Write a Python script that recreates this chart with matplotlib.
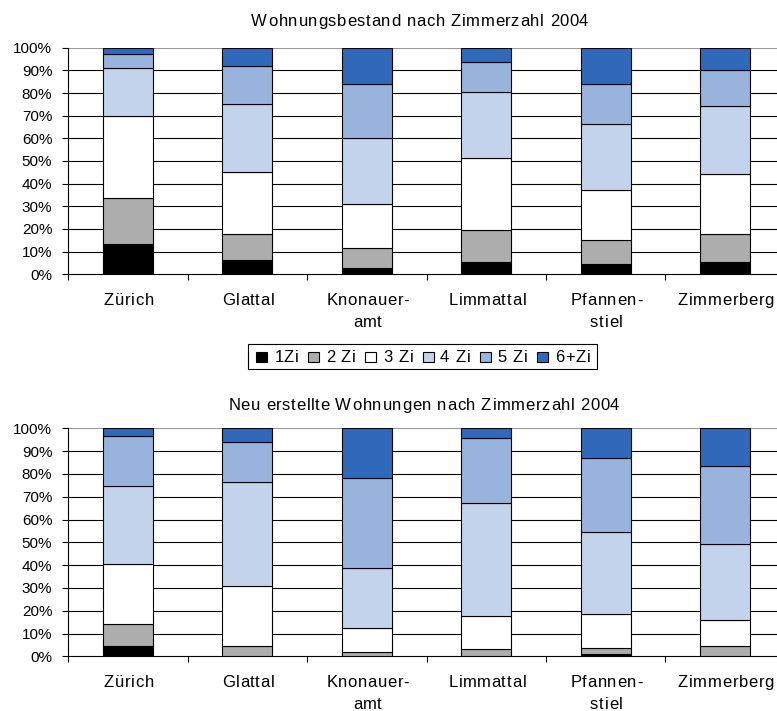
import matplotlib
matplotlib.use("Agg")
import matplotlib.pyplot as plt
from matplotlib.patches import Rectangle
from matplotlib.transforms import offset_copy, blended_transform_factory
from matplotlib.font_manager import FontProperties, findfont, get_font
import numpy as np

FONT = "Liberation Sans"
DPI = 100
W, H = 777, 711
plt.rcParams['font.family'] = [FONT, 'DejaVu Sans']

regions = ["Zürich", "Glattal", "Knonauer-\namt", "Limmattal", "Pfannen-\nstiel", "Zimmerberg"]
room_classes = ["1Zi", "2 Zi", "3 Zi", "4 Zi", "5 Zi", "6+Zi"]
colors = ["#000000", "#ADADAD", "#FFFFFF", "#C3D3EB", "#98B4DD", "#3169BA"]
y_ticks = [0, 10, 20, 30, 40, 50, 60, 70, 80, 90, 100]
title_top = "Wohnungsbestand nach Zimmerzahl 2004"
title_bot = "Neu erstellte Wohnungen nach Zimmerzahl 2004"

# shares in % per region (1Zi, 2 Zi, 3 Zi, 4 Zi, 5 Zi, 6+Zi)
bestand_1zi = [13.5, 6.5, 2.9, 5.6, 4.4, 5.4]
bestand_2zi = [20.0, 11.3, 8.6, 14.0, 10.7, 12.4]
bestand_3zi = [36.4, 27.2, 19.5, 31.6, 22.0, 26.3]
bestand_4zi = [21.0, 30.0, 29.0, 29.2, 29.1, 30.0]
bestand_5zi = [6.2, 16.9, 23.8, 13.1, 17.6, 15.9]
bestand_6zi = [2.9, 8.1, 16.2, 6.5, 16.2, 10.0]

neubau_1zi = [4.5, 0.0, 0.3, 0.0, 0.9, 0.0]
neubau_2zi = [9.5, 4.4, 1.5, 3.4, 2.6, 4.4]
neubau_3zi = [26.5, 26.3, 10.5, 14.1, 15.1, 11.4]
neubau_4zi = [34.1, 45.6, 26.3, 49.9, 35.8, 33.3]
neubau_5zi = [21.9, 17.6, 39.5, 28.2, 32.4, 34.2]
neubau_6zi = [3.5, 6.1, 21.9, 4.4, 13.2, 16.7]

bestand = [bestand_1zi, bestand_2zi, bestand_3zi, bestand_4zi, bestand_5zi, bestand_6zi]
neubau = [neubau_1zi, neubau_2zi, neubau_3zi, neubau_4zi, neubau_5zi, neubau_6zi]

fig = plt.figure(figsize=(W / DPI, H / DPI), dpi=DPI)
# plot areas in pixel terms: left 68.3, category pitch 119.4 (runs past the right edge)
ax_top = fig.add_axes([68.3 / W, 1 - 274.3 / H, 716.4 / W, 226.6 / H])
ax_bot = fig.add_axes([68.3 / W, 1 - 656.3 / H, 716.4 / W, 228.0 / H])

TEXT_SIZE = 12
TRACK = 0.7  # extra letter spacing in pixels


def text_width(s, size=TEXT_SIZE, track=TRACK):
    font = get_font(findfont(FontProperties(family=FONT)))
    font.set_size(size, DPI)
    adv = [font.load_char(ord(c)).linearHoriAdvance / 65536 for c in s]
    return sum(adv) + track * (len(s) - 1)


def tracked_text(x, y, s, transform, dy=0.0, ha="center", size=TEXT_SIZE, track=TRACK):
    """Draw s letter by letter with extra spacing; dy is a pixel offset (up positive)."""
    font = get_font(findfont(FontProperties(family=FONT)))
    font.set_size(size, DPI)
    glyphs = [font.load_char(ord(c)) for c in s]
    adv = [g.linearHoriAdvance / 65536 for g in glyphs]
    total = sum(adv) + track * (len(s) - 1)
    pos = {"left": 0.0, "center": -total / 2, "right": -total}[ha]
    for c, g, a in zip(s, glyphs, adv):
        if c != " ":
            tr = offset_copy(transform, fig=fig, x=pos + g.horiBearingX / 64, y=dy, units="dots")
            fig.text(x, y, c, transform=tr, ha="left", va="baseline",
                     fontsize=size, family=FONT, color="black")
        pos += a + track


def draw_panel(ax, series):
    x = np.arange(len(regions))
    bottom = np.zeros(len(regions))
    for vals, col in zip(series, colors):
        vals = np.array(vals)
        ax.bar(x, vals, bottom=bottom, width=0.42, color=col,
               edgecolor="black", linewidth=0.8, zorder=3)
        bottom += vals
    ax.set_xlim(-0.5, len(regions) - 0.5)
    ax.set_ylim(0, 100)
    ax.set_yticks(y_ticks)
    ax.set_yticklabels([f"{t}%" for t in y_ticks], fontsize=11)
    for t in y_ticks[1:-1]:
        ax.axhline(t, color="black", linewidth=0.8, zorder=1)
    ax.axhline(100, color="#9a9a9a", linewidth=0.8, zorder=1)
    ax.set_xticks(x)
    ax.set_xticklabels([])
    ax.set_xticks(np.arange(-0.5, len(regions) - 0.5), minor=True)
    ax.tick_params(axis="x", which="major", length=0)
    ax.tick_params(axis="x", which="minor", length=4, width=0.8, direction="out")
    ax.tick_params(axis="y", length=4, width=0.8, direction="out", pad=7.5)
    for s in ["top", "right"]:
        ax.spines[s].set_visible(False)
    ax.spines["left"].set_linewidth(0.8)
    ax.spines["bottom"].set_linewidth(0.8)

    # category labels, tracked, below the axis
    blend = blended_transform_factory(ax.transData, ax.transAxes)
    for i, lab in enumerate(regions):
        for j, line in enumerate(lab.split("\n")):
            tracked_text(i, 0, line, blend, dy=-(31.2 + 21.5 * j))


draw_panel(ax_top, bestand)
draw_panel(ax_bot, neubau)

tracked_text(419.5 / W, 1 - 25.7 / H, title_top, fig.transFigure)
tracked_text(423.0 / W, 1 - 410.0 / H, title_bot, fig.transFigure)

# legend row
sq, gap_in, gap_out, pad = 11.0, 6.0, 10.5, 8.0
widths = [text_width(lab) for lab in room_classes]
inner = sum(sq + gap_in + w for w in widths) + gap_out * (len(widths) - 1)
box_w = inner + 2 * pad
box_cx, box_top, box_h = 422.7, 344.0, 24.5
box_x0 = box_cx - box_w / 2
fig.patches.append(Rectangle((box_x0 / W, 1 - (box_top + box_h) / H), box_w / W, box_h / H,
                             transform=fig.transFigure, facecolor="white",
                             edgecolor="black", linewidth=0.8))
baseline = box_top + 18.0
xpos = box_x0 + pad
for lab, col, w in zip(room_classes, colors, widths):
    fig.patches.append(Rectangle((xpos / W, 1 - (baseline + 0.5) / H), sq / W, sq / H,
                                 transform=fig.transFigure, facecolor=col,
                                 edgecolor="black", linewidth=0.8))
    xpos += sq + gap_in
    tracked_text(xpos / W, 1 - baseline / H, lab, fig.transFigure, ha="left")
    xpos += w + gap_out

fig.savefig("out.png", dpi=DPI)
